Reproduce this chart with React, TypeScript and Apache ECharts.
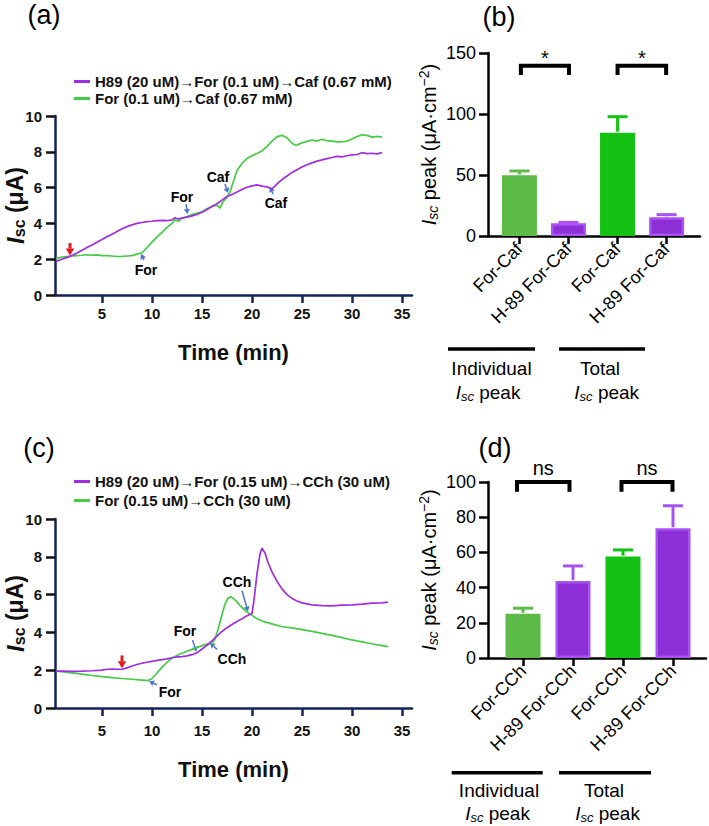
import React, { useEffect, useRef } from 'react';
import * as echarts from 'echarts';

const FONT = 'Arial, "Liberation Sans", Helvetica, sans-serif';
const NAVY = '#13235b';
const PURPLE = '#a02ee0';
const GREEN = '#44cc44';
const BAR_GREEN_1 = '#5bbb46';
const BAR_GREEN_2 = '#14c214';
const BAR_PURPLE = '#8d2fd6';
const BAR_PURPLE_EDGE = '#a852f2';

// ---------- Panel (a) ----------
const legendA = ['H89 (20 uM)→For (0.1 uM)→Caf (0.67 mM)', 'For (0.1 uM)→Caf (0.67 mM)'];
const traceA_H89: number[][] = [
  [0.4, 1.88], [1, 2.0], [1.5, 2.1], [2, 2.2], [2.5, 2.35], [3, 2.5], [3.5, 2.65], [4, 2.8], [4.5, 2.95], [5, 3.1],
  [5.5, 3.25], [6, 3.4], [6.5, 3.55], [7, 3.7], [7.5, 3.82], [8, 3.92], [8.5, 4.0], [9, 4.05], [9.5, 4.1], [10, 4.12],
  [10.5, 4.15], [11, 4.17], [11.5, 4.15], [12, 4.2], [12.3, 4.32], [12.6, 4.25], [13, 4.3], [13.5, 4.35], [14, 4.42],
  [14.5, 4.5], [15, 4.62], [15.5, 4.78], [16, 4.95], [16.5, 5.1], [17, 5.3], [17.5, 5.5], [18, 5.62], [18.5, 5.75],
  [19, 5.9], [19.5, 6.02], [20, 6.1], [20.5, 6.15], [21, 6.08], [21.5, 6.04], [22, 5.92], [22.3, 6.1], [22.7, 6.3],
  [23, 6.45], [23.5, 6.65], [24, 6.85], [24.5, 7.0], [25, 7.15], [25.5, 7.28], [26, 7.38], [26.5, 7.48], [27, 7.55],
  [27.5, 7.62], [28, 7.68], [28.5, 7.74], [29, 7.72], [29.5, 7.78], [30, 7.83], [30.5, 7.85], [31, 7.95], [31.5, 7.9],
  [32, 7.92], [32.5, 7.88], [33, 7.95],
];
const traceA_For: number[][] = [
  [0.4, 2.05], [1, 2.12], [1.5, 2.15], [2, 2.18], [2.5, 2.2], [3, 2.22], [3.5, 2.25], [4, 2.22], [4.5, 2.24], [5, 2.2],
  [5.5, 2.2], [6, 2.18], [6.5, 2.15], [7, 2.16], [7.5, 2.18], [8, 2.2], [8.5, 2.28], [9, 2.36], [9.5, 2.65], [10, 2.95],
  [10.5, 3.25], [11, 3.5], [11.5, 3.78], [12, 4.0], [12.3, 4.2], [12.6, 4.12], [13, 4.28], [13.5, 4.38], [14, 4.5],
  [14.5, 4.58], [15, 4.65], [15.5, 4.82], [16, 4.95], [16.5, 5.02], [16.8, 4.85], [17.1, 5.2], [17.5, 5.45], [17.8, 5.75],
  [18, 6.1], [18.5, 6.95], [19, 7.35], [19.5, 7.62], [20, 7.78], [20.5, 7.9], [21, 8.05], [21.5, 8.3], [22, 8.6],
  [22.5, 8.85], [23, 8.92], [23.5, 8.78], [24, 8.48], [24.4, 8.35], [25, 8.5], [25.5, 8.58], [26, 8.66], [26.5, 8.6],
  [27, 8.7], [27.5, 8.62], [28, 8.6], [28.5, 8.55], [29, 8.56], [29.5, 8.6], [30, 8.72], [30.5, 8.85], [31, 8.95],
  [31.5, 8.92], [32, 8.82], [32.5, 8.86], [33, 8.82],
];
const notesA = [
  { text: 'For', label: [9.4, 1.4], from: [9.2, 1.95], to: [8.9, 2.3] },
  { text: 'For', label: [13.0, 5.47], from: [13.4, 5.08], to: [13.55, 4.52] },
  { text: 'Caf', label: [16.6, 6.59], from: [17.3, 6.2], to: [17.6, 5.7] },
  { text: 'Caf', label: [22.4, 5.14], from: [22.1, 5.64], to: [21.8, 6.03] },
];
const redArrowA = { from: [1.8, 2.9], to: [1.8, 2.2] };

// ---------- Panel (c) ----------
const legendC = ['H89 (20 uM)→For (0.15 uM)→CCh (30 uM)', 'For (0.15 uM)→CCh (30 uM)'];
const traceC_H89: number[][] = [
  [0.4, 1.95], [1, 1.95], [2, 1.94], [3, 1.95], [4, 1.97], [5, 2.0], [5.5, 2.05], [6, 2.06], [6.5, 2.05], [7, 2.05],
  [7.5, 2.12], [8, 2.22], [8.5, 2.3], [9, 2.37], [9.5, 2.42], [10, 2.47], [10.5, 2.52], [11, 2.56], [11.5, 2.6],
  [12, 2.66], [12.5, 2.7], [13, 2.72], [13.5, 2.76], [14, 2.82], [14.5, 2.92], [15, 3.12], [15.5, 3.32], [16, 3.55],
  [16.5, 3.8], [17, 4.05], [17.5, 4.25], [18, 4.42], [18.5, 4.58], [19, 4.72], [19.5, 4.88], [20, 5.0], [20.2, 5.7],
  [20.5, 7.1], [20.8, 8.15], [21, 8.45], [21.3, 8.2], [21.6, 7.7], [22, 7.2], [22.5, 6.7], [23, 6.3], [23.5, 6.0],
  [24, 5.8], [24.5, 5.66], [25, 5.56], [26, 5.46], [27, 5.42], [28, 5.4], [29, 5.44], [30, 5.46], [31, 5.5], [32, 5.55],
  [33, 5.56], [33.6, 5.6],
];
const traceC_For: number[][] = [
  [0.4, 1.95], [1, 1.92], [2, 1.86], [3, 1.79], [4, 1.72], [5, 1.66], [6, 1.61], [7, 1.56], [8, 1.52], [9, 1.48],
  [9.6, 1.45], [10, 1.56], [10.5, 1.85], [11, 2.15], [11.5, 2.42], [12, 2.64], [12.5, 2.78], [13, 2.9], [13.5, 3.0],
  [14, 3.1], [14.5, 3.2], [15, 3.3], [15.5, 3.38], [16, 3.42], [16.3, 3.65], [16.6, 4.15], [17, 4.95], [17.3, 5.5],
  [17.6, 5.82], [17.9, 5.88], [18.3, 5.72], [18.8, 5.42], [19.3, 5.16], [20, 4.9], [20.5, 4.72], [21, 4.6], [22, 4.45],
  [23, 4.3], [24, 4.24], [25, 4.15], [26, 4.05], [27, 3.95], [28, 3.84], [29, 3.72], [30, 3.6], [31, 3.5], [32, 3.4],
  [33, 3.3], [33.6, 3.25],
];
const notesC = [
  { text: 'For', label: [11.8, 0.84], from: [10.5, 1.22], to: [9.7, 1.42] },
  { text: 'For', label: [13.3, 4.05], from: [14.05, 3.6], to: [14.45, 2.98] },
  { text: 'CCh', label: [18.0, 2.58], from: [16.5, 3.1], to: [15.8, 3.45] },
  { text: 'CCh', label: [18.5, 6.68], from: [19.0, 6.2], to: [19.6, 5.1] },
];
const redArrowC = { from: [7, 2.78], to: [7, 2.1] };

const timeTicks = [5, 10, 15, 20, 25, 30, 35];

// ---------- Panel (b) ----------
const catsB = ['For-Caf', 'H-89 For-Caf', 'For-Caf', 'H-89 For-Caf'];
const meanB = [49.7, 10.4, 84.7, 15.3];
const semB = [3.6, 0.8, 13.1, 2.2];
const bracketsB = [[0.03, 1.01, 139.6, 132, 146], [2.0, 2.99, 139.6, 132, 146]];
const sigB = ['*', '*'];

// ---------- Panel (d) ----------
const catsD = ['For-CCh', 'H-89 For-CCh', 'For-CCh', 'H-89 For-CCh'];
const meanD = [25.1, 43.8, 57.6, 73.7];
const semD = [3.2, 8.5, 3.8, 12.8];
const bracketsD = [[-0.12, 0.93, 100, 94.4, 107.8], [1.97, 2.99, 100, 94.4, 107.8]];
const sigD = ['ns', 'ns'];

const barColors = [BAR_GREEN_1, BAR_PURPLE, BAR_GREEN_2, BAR_PURPLE];
const errColors = [BAR_GREEN_1, BAR_PURPLE_EDGE, BAR_GREEN_2, BAR_PURPLE_EDGE];

function traceAxes(gridIndex: number, nameGap: number, labelMargin: number) {
  const x = {
    gridIndex, type: 'value', min: 0.3, max: 36,
    axisLine: { show: true, onZero: false, lineStyle: { color: NAVY, width: 2.5 } },
    axisTick: { show: true, customValues: timeTicks, length: 8, lineStyle: { color: NAVY, width: 2.5 } },
    axisLabel: { customValues: timeTicks, fontSize: 15, fontWeight: 'bold', color: '#111', margin: labelMargin, fontFamily: FONT },
    splitLine: { show: false },
    name: 'Time (min)', nameLocation: 'middle', nameGap, nameMoveOverlap: false,
    nameTextStyle: { fontSize: 22, fontWeight: 'bold', color: '#111', fontFamily: FONT },
  };
  const y = {
    gridIndex, type: 'value', min: 0, max: 10, interval: 2,
    axisLine: { show: true, onZero: false, lineStyle: { color: NAVY, width: 2.5 } },
    axisTick: { show: true, length: 9, lineStyle: { color: '#111', width: 2.5 } },
    axisLabel: { fontSize: 15, fontWeight: 'bold', color: '#111', margin: 13, fontFamily: FONT },
    splitLine: { show: false },
    name: '{i|I}{s|sc}{n| (μA)}', nameLocation: 'middle', nameGap: 28, nameRotate: 90, nameMoveOverlap: false,
    nameTextStyle: {
      color: '#111', fontFamily: FONT,
      rich: {
        i: { fontSize: 24, fontWeight: 'bold', fontStyle: 'italic', fontFamily: FONT, color: '#111' },
        s: { fontSize: 16, fontWeight: 'bold', fontFamily: FONT, color: '#111', padding: [8, 0, 0, 0] },
        n: { fontSize: 23, fontWeight: 'bold', fontFamily: FONT, color: '#111' },
      },
    },
  };
  return { x, y };
}

function barAxes(gridIndex: number, cats: string[], min: number, max: number, ymax: number, yint: number) {
  const idx = cats.map((_, i) => i);
  const x = {
    gridIndex, type: 'value', min, max,
    axisLine: { show: true, onZero: false, lineStyle: { color: '#000', width: 2.5 } },
    axisTick: { show: true, customValues: idx, length: 8, lineStyle: { color: '#000', width: 2.5 } },
    axisLabel: {
      customValues: idx, rotate: 45, formatter: (v: number) => cats[Math.round(v)],
      fontSize: 18, color: '#000', margin: 10, fontFamily: FONT,
    },
    splitLine: { show: false },
  };
  const y = {
    gridIndex, type: 'value', min: 0, max: ymax, interval: yint,
    axisLine: { show: true, onZero: false, lineStyle: { color: '#000', width: 2.5 } },
    axisTick: { show: true, length: 9, lineStyle: { color: '#000', width: 2.5 } },
    axisLabel: { fontSize: 18, color: '#000', margin: 12, fontFamily: FONT },
    splitLine: { show: false },
    name: '{i|I}{s|sc}{n| peak (μA·cm}{p|−2}{n|)}', nameLocation: 'middle', nameGap: 48, nameRotate: 90,
    nameMoveOverlap: false,
    nameTextStyle: {
      color: '#000', fontFamily: FONT,
      rich: {
        i: { fontSize: 20, fontStyle: 'italic', fontFamily: FONT, color: '#000' },
        s: { fontSize: 14, fontStyle: 'italic', fontFamily: FONT, color: '#000', padding: [9, 0, 0, 0] },
        n: { fontSize: 20, fontFamily: FONT, color: '#000' },
        p: { fontSize: 14, fontFamily: FONT, color: '#000', padding: [0, 0, 9, 0] },
      },
    },
  };
  return { x, y };
}

function barSeries(idx: number, means: number[], sems: number[], brackets: number[][], sig: string[]) {
  return [
    {
      type: 'bar', xAxisIndex: idx, yAxisIndex: idx, barWidth: 35,
      data: means.map((m, i) => ({
        value: [i, m],
        itemStyle: {
          color: barColors[i],
          borderColor: i % 2 === 1 ? BAR_PURPLE_EDGE : barColors[i],
          borderWidth: i % 2 === 1 ? 2.5 : 0,
        },
      })),
    },
    {
      type: 'custom', xAxisIndex: idx, yAxisIndex: idx, z: 3,
      data: means.map((m, i) => [i, m, sems[i]]),
      renderItem: (params: any, api: any) => {
        const x = api.value(0), m = api.value(1), e = api.value(2);
        const p0 = api.coord([x, m]);
        const p1 = api.coord([x, m + e]);
        const c = errColors[params.dataIndex];
        return {
          type: 'group', children: [
            { type: 'line', shape: { x1: p0[0], y1: p0[1] - 1, x2: p1[0], y2: p1[1] }, style: { stroke: c, lineWidth: 3 } },
            { type: 'line', shape: { x1: p1[0] - 10, y1: p1[1], x2: p1[0] + 10, y2: p1[1] }, style: { stroke: c, lineWidth: 3 } },
          ],
        };
      },
    },
    {
      type: 'custom', xAxisIndex: idx, yAxisIndex: idx, z: 3,
      data: brackets,
      renderItem: (params: any, api: any) => {
        const x1 = api.value(0), x2 = api.value(1), yt = api.value(2), yb = api.value(3), ytx = api.value(4);
        const a = api.coord([x1, yb]), b = api.coord([x1, yt]), c = api.coord([x2, yt]), d = api.coord([x2, yb]);
        const t = api.coord([(x1 + x2) / 2, ytx]);
        return {
          type: 'group', children: [
            { type: 'polyline', shape: { points: [a, b, c, d] }, style: { stroke: '#000', lineWidth: 4, fill: 'none' } },
            {
              type: 'text', x: t[0], y: t[1],
              style: { text: sig[params.dataIndex], fontSize: 20, fill: '#000', align: 'center', verticalAlign: 'middle', fontFamily: FONT },
            },
          ],
        };
      },
    },
  ];
}

function lineSeries(idx: number, names: string[], h89: number[][], forsk: number[][]) {
  return [
    {
      type: 'line', name: names[0], xAxisIndex: idx, yAxisIndex: idx, data: h89, showSymbol: false, symbol: 'none',
      lineStyle: { color: PURPLE, width: 1.7 }, itemStyle: { color: PURPLE }, z: 3,
    },
    {
      type: 'line', name: names[1], xAxisIndex: idx, yAxisIndex: idx, data: forsk, showSymbol: false, symbol: 'none',
      lineStyle: { color: GREEN, width: 1.7 }, itemStyle: { color: GREEN }, z: 2,
    },
  ];
}

function buildOption() {
  const a = traceAxes(0, 46, 11);
  const b = barAxes(1, catsB, -0.64, 3.68, 150, 50);
  const c = traceAxes(2, 50, 15);
  const d = barAxes(3, catsD, -0.7, 3.66, 100, 20);
  const legendBase = {
    orient: 'vertical', icon: 'rect', itemWidth: 16, itemHeight: 3, padding: 0, selectedMode: false,
    textStyle: { fontSize: 15, fontWeight: 'bold', color: '#111', fontFamily: FONT },
  };
  return {
    animation: false,
    backgroundColor: '#fff',
    grid: [
      { left: 55, top: 116, width: 357, height: 179, outerBoundsMode: 'none' },
      { left: 488, top: 53, width: 212, height: 183, outerBoundsMode: 'none' },
      { left: 55, top: 519, width: 357, height: 189, outerBoundsMode: 'none' },
      { left: 488, top: 482, width: 218, height: 176, outerBoundsMode: 'none' },
    ],
    legend: [
      { ...legendBase, data: legendA, left: 74, top: 74, itemGap: 2 },
      { ...legendBase, data: legendC, left: 74, top: 474, itemGap: 4 },
    ],
    xAxis: [a.x, b.x, c.x, d.x],
    yAxis: [a.y, b.y, c.y, d.y],
    series: [
      ...lineSeries(0, legendA, traceA_H89, traceA_For),
      ...barSeries(1, meanB, semB, bracketsB, sigB),
      ...lineSeries(2, legendC, traceC_H89, traceC_For),
      ...barSeries(3, meanD, semD, bracketsD, sigD),
    ],
  };
}

function arrow(p1: number[], p2: number[], color: string, w: number, head: number) {
  const dx = p2[0] - p1[0], dy = p2[1] - p1[1];
  const len = Math.hypot(dx, dy) || 1;
  const ux = dx / len, uy = dy / len;
  const bx = p2[0] - ux * head, by = p2[1] - uy * head;
  const nx = -uy, ny = ux;
  const hw = head * 0.6;
  return [
    { type: 'line', shape: { x1: p1[0], y1: p1[1], x2: bx, y2: by }, style: { stroke: color, lineWidth: w } },
    {
      type: 'polygon',
      shape: { points: [[p2[0], p2[1]], [bx + nx * hw, by + ny * hw], [bx - nx * hw, by - ny * hw]] },
      style: { fill: color },
    },
  ];
}

function text(x: number, y: number, t: string, size: number, extra: any = {}) {
  return {
    type: 'text', x, y,
    style: { text: t, fontSize: size, fill: '#000', align: 'center', verticalAlign: 'middle', fontFamily: FONT, ...extra },
  };
}

const iscRich = {
  i: { fontSize: 19, fontStyle: 'italic', fontFamily: FONT, fill: '#000', color: '#000' },
  s: { fontSize: 13, fontStyle: 'italic', fontFamily: FONT, fill: '#000', color: '#000', padding: [9, 0, 0, 0] },
  n: { fontSize: 19, fontFamily: FONT, fill: '#000', color: '#000' },
};

function buildGraphics(chart: any) {
  const els: any[] = [];
  // panel titles
  els.push(text(44, 15, '(a)', 27));
  els.push(text(499, 17, '(b)', 27));
  els.push(text(39, 448, '(c)', 27));
  els.push(text(495, 448, '(d)', 27));

  const addNotes = (gridIndex: number, notes: any[], red: any) => {
    const px = (p: number[]) => chart.convertToPixel({ gridIndex }, p);
    notes.forEach((n) => {
      const l = px(n.label);
      els.push(text(l[0], l[1], n.text, 14, { fontWeight: 'bold' }));
      els.push(...arrow(px(n.from), px(n.to), '#4d72d6', 1.5, 5));
    });
    els.push(...arrow(px(red.from), px(red.to), '#e5171c', 3, 7));
  };
  addNotes(0, notesA, redArrowA);
  addNotes(2, notesC, redArrowC);

  // group annotations under the bar panels
  const groups = [
    { y: 349, lines: [[448, 535], [559, 645]], t1: [[491.5, 368], [600, 368]], t2: [[488, 392], [606.7, 392]] },
    { y: 772.7, lines: [[451.7, 542.7], [559, 651]], t1: [[499, 790], [604, 790]], t2: [[497.5, 813], [607.5, 813]] },
  ];
  const words = ['Individual', 'Total'];
  groups.forEach((g) => {
    g.lines.forEach((l) => {
      els.push({ type: 'line', shape: { x1: l[0], y1: g.y, x2: l[1], y2: g.y }, style: { stroke: '#000', lineWidth: 3.5 } });
    });
    g.t1.forEach((p, i) => els.push(text(p[0], p[1], words[i], 19)));
    g.t2.forEach((p) => els.push(text(p[0], p[1], '{i|I}{s|sc}{n| peak}', 19, { rich: iscRich })));
  });
  return els;
}

export default function App() {
  const ref = useRef<HTMLDivElement>(null);
  useEffect(() => {
    document.body.style.margin = '0';
    const chart = echarts.init(ref.current as HTMLDivElement, null, { renderer: 'svg' });
    chart.setOption(buildOption() as any);
    chart.setOption({ graphic: { elements: buildGraphics(chart) } } as any);
    return () => chart.dispose();
  }, []);
  return <div ref={ref} style={{ width: 709, height: 826 }} />;
}
